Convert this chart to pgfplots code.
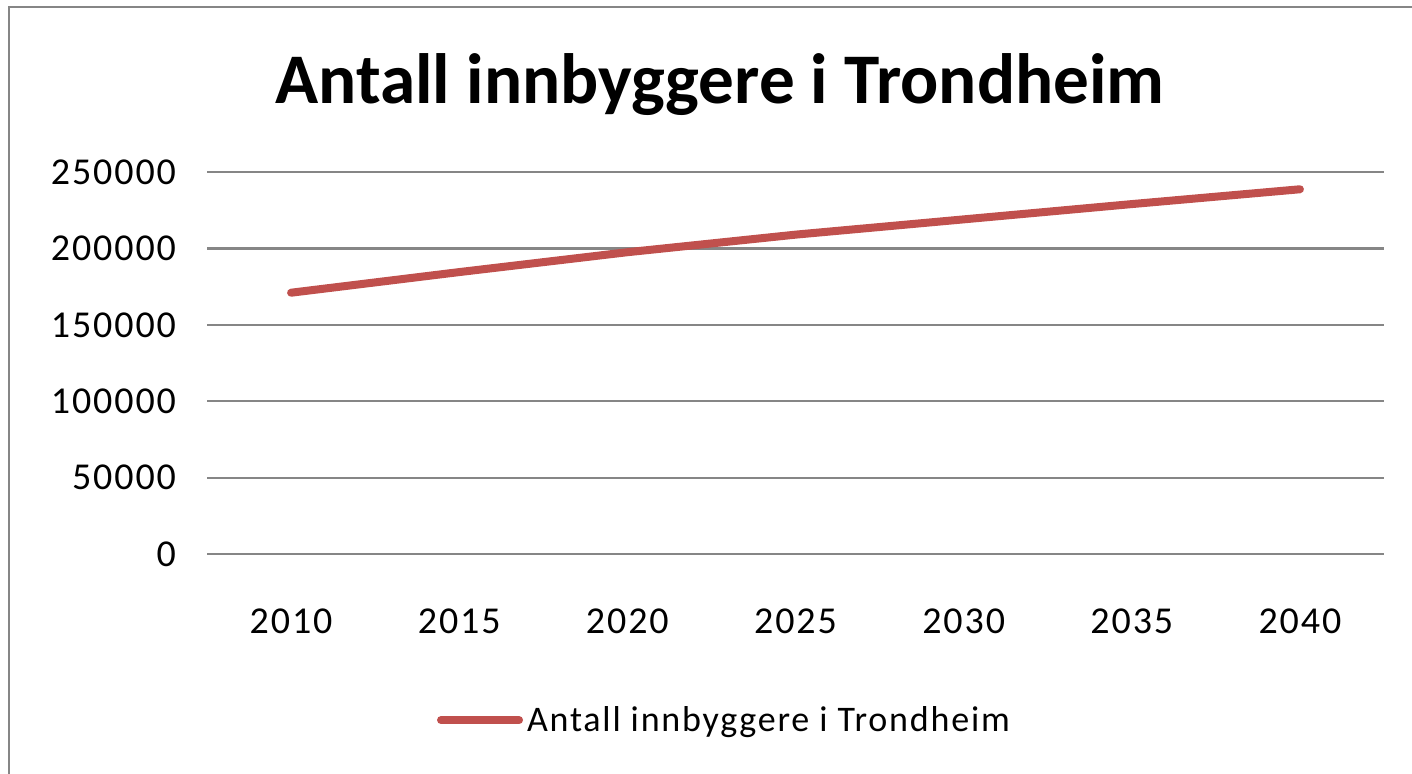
\documentclass[border=0pt]{standalone}
\usepackage{pgfplots}
\pgfplotsset{compat=1.18}
\usepackage{fontspec}
\setmainfont{Carlito}
\newfontfamily\tickfont[LetterSpace=5]{Carlito}
\newfontfamily\legfont[LetterSpace=5]{Carlito}
\definecolor{ser}{HTML}{C0504D}
\definecolor{grd}{HTML}{868686}
\begin{document}
\begin{tikzpicture}
\path[use as bounding box] (0pt,0pt) rectangle (706pt,-387pt);
\draw[grd, line width=1.2pt] (4.5pt,-390pt) -- (4.5pt,-3.5pt) -- (710pt,-3.5pt);
\node[font=\fontsize{35.6}{40}\selectfont\bfseries] at (360pt,-42.5pt) {Antall innbyggere i Trondheim};
\begin{axis}[
  at={(103.5pt,-277pt)}, anchor=south west,
  scale only axis, width=588.5pt, height=191pt,
  xmin=2007.5, xmax=2042.5, ymin=0, ymax=250000,
  xtick={2010,2015,...,2040},
  ytick={0,50000,...,250000},
  scaled y ticks=false,
  ymajorgrids,
  grid style={grd, line width=1.1pt},
  axis line style={draw=none},
  major tick length=0pt,
  /pgf/number format/.cd, fixed, 1000 sep={}, assume math mode=true,
  /pgfplots/.cd,
  yticklabel style={font=\tickfont\fontsize{19}{19}\selectfont, anchor=east, xshift=-12pt},
  xticklabel style={font=\tickfont\fontsize{19}{19}\selectfont, anchor=north, yshift=-24pt},
  legend style={at={(0.19,-0.435)}, anchor=west, draw=none, fill=none,
    font=\legfont\fontsize{18}{18}\selectfont, legend cell align=left},
  legend image code/.code={\draw[line width=4pt, line cap=round] (0pt,0pt) -- (39pt,0pt);},
]
\addplot[ser, line width=4pt, line cap=round] coordinates {
  (2010,171000) (2015,184500) (2020,197500) (2025,209000) (2030,219000) (2035,229000) (2040,238700)
};
\addlegendentry{Antall innbyggere i Trondheim}
\end{axis}
\end{tikzpicture}
\end{document}
